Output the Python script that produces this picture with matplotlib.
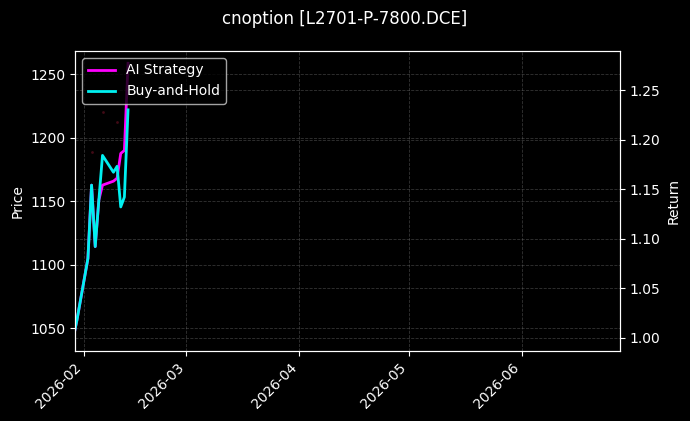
import matplotlib
matplotlib.use("Agg")
import matplotlib.pyplot as plt
import matplotlib.dates as mdates
import pandas as pd
import numpy as np

plt.style.use("dark_background")

dates = pd.to_datetime(["2026-01-29", "2026-01-30", "2026-02-02", "2026-02-03", "2026-02-04",
                        "2026-02-05", "2026-02-06", "2026-02-09", "2026-02-10", "2026-02-11",
                        "2026-02-12", "2026-02-13"])
ai_strategy = [1.000, 1.018, 1.080, 1.154, 1.092, 1.139, 1.154, 1.158, 1.161, 1.186, 1.189, 1.277]
buy_hold = [1.000, 1.018, 1.080, 1.154, 1.092, 1.139, 1.184, 1.167, 1.173, 1.132, 1.142, 1.230]

signal_dates = pd.to_datetime(["2026-02-03", "2026-02-06", "2026-02-10"])
signal_prices = [1189, 1220.5, 1212.5]

title = "cnoption [L2701-P-7800.DCE]"

fig = plt.figure(figsize=(6.9, 4.21), dpi=100, facecolor="black")
ax = fig.add_axes([0.1087, 0.1663, 0.7899, 0.7126])
ax.set_facecolor("black")
ax2 = ax.twinx()

ax.scatter(signal_dates, signal_prices, s=4, color="#420a16", zorder=1, linewidths=0)
ax.set_ylim(1032.3, 1268.1)
ax.set_ylabel("Price", color="white", fontsize=10)

l1, = ax2.plot(dates, ai_strategy, color="#ff00ff", lw=2, label="AI Strategy")
l2, = ax2.plot(dates, buy_hold, color="#00f0f0", lw=2, label="Buy-and-Hold")
ax2.set_ylim(0.9866, 1.2894)
ax2.set_ylabel("Return", color="white", fontsize=10)

ax.set_xlim(pd.Timestamp("2026-01-29 11:00"), pd.Timestamp("2026-06-27 22:00"))
ax.xaxis.set_major_locator(mdates.MonthLocator())
ax.xaxis.set_major_formatter(mdates.DateFormatter("%Y-%m"))
for lab in ax.get_xticklabels():
    lab.set_rotation(45)
    lab.set_ha("right")

for a in (ax, ax2):
    a.grid(True, color="gray", linestyle="--", linewidth=0.6, alpha=0.4)
    a.tick_params(colors="white", labelsize=10)
    for s in a.spines.values():
        s.set_color("white")

leg = ax2.legend(handles=[l1, l2], loc="upper left", fontsize=10,
                 facecolor="black", edgecolor="#cccccc", framealpha=0.8)
for t in leg.get_texts():
    t.set_color("white")

fig.suptitle(title, color="white", fontsize=12, y=0.977)

fig.savefig("out.png", dpi=100, facecolor="black")
